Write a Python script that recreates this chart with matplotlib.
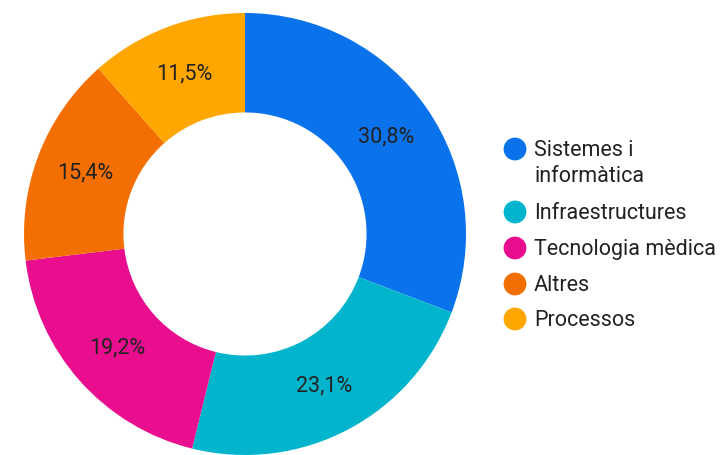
import matplotlib
matplotlib.use("Agg")
import matplotlib.pyplot as plt

categories = ["Sistemes i\ninformàtica", "Infraestructures", "Tecnologia mèdica", "Altres", "Processos"]
values = [8, 6, 5, 4, 3]
colors = ["#0A73EC", "#03B5CC", "#E90E8E", "#F46F02", "#FFA600"]

plt.rcParams['font.family'] = ['Roboto', 'DejaVu Sans']

W, H = 723, 455
fig = plt.figure(figsize=(W / 100, H / 100), dpi=100)

cx, cy, R = 245, 234, 221
ax = fig.add_axes([(cx - R) / W, (H - cy - R) / H, 2 * R / W, 2 * R / H])

def fmt(p):
    return f"{p:.1f}%".replace(".", ",")

wedges, texts, autotexts = ax.pie(
    values, colors=colors, startangle=90, counterclock=False,
    radius=1, autopct=fmt, pctdistance=0.775,
    wedgeprops=dict(width=0.45, linewidth=0),
    textprops=dict(fontsize=15.5, color="#222222"))
ax.set_xlim(-1, 1)
ax.set_ylim(-1, 1)
ax.set_aspect("equal")
ax.axis("off")

# legend
lax = fig.add_axes([0, 0, 1, 1])
lax.set_xlim(0, W)
lax.set_ylim(H, 0)
lax.axis("off")
ys = [149, 212, 248, 284, 319]
for cat, col, y in zip(categories, colors, ys):
    lax.scatter([515], [y], s=270, color=col, edgecolors="none")
    for i, line in enumerate(cat.split("\n")):
        lax.text(534, y + 7 + 26 * i, line, fontsize=15.5, color="#222222",
                 va="baseline", ha="left")

fig.savefig("out.png", dpi=100, facecolor="white")
